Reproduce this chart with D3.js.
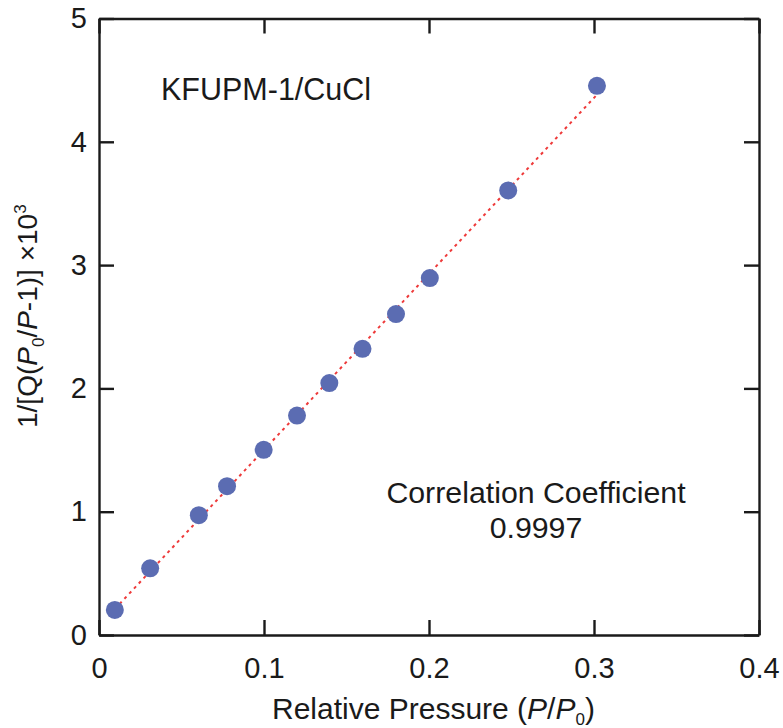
<!DOCTYPE html>
<html>
<head>
<meta charset="utf-8">
<script src="https://cdn.jsdelivr.net/npm/d3@7"></script>
<style>
  html, body { margin: 0; padding: 0; background: #fff; }
  svg { display: block; font-family: "Liberation Sans", Arial, sans-serif; }
  .axis text { font-size: 29px; fill: #1a1a1a; }
  .axis path, .axis line { stroke: #1a1a1a; stroke-width: 2.4px; }
</style>
</head>
<body>
<svg id="chart" width="783" height="728"></svg>
<script>
// BET plot data
const relPressure = [0.0096, 0.031, 0.0605, 0.0776, 0.0998, 0.120, 0.1396, 0.1597, 0.180, 0.2005, 0.248, 0.3018];
const betValue = [0.203, 0.541, 0.972, 1.207, 1.502, 1.780, 2.043, 2.321, 2.603, 2.895, 3.606, 4.454];
const xTicks = [0, 0.1, 0.2, 0.3, 0.4];
const yTicks = [0, 1, 2, 3, 4, 5];
const sampleLabel = "KFUPM-1/CuCl";
const corrLabel = ["Correlation Coefficient", "0.9997"];

const svg = d3.select("#chart");
const plotLeft = 99, plotRight = 759, plotTop = 18.5, plotBottom = 635;

const x = d3.scaleLinear().domain([0, 0.4]).range([plotLeft, plotRight]);
const y = d3.scaleLinear().domain([0, 5]).range([plotBottom, plotTop]);

const tick = 15;

// bottom axis with labels, ticks pointing in
svg.append("g")
  .attr("class", "axis")
  .attr("transform", "translate(0," + plotBottom + ")")
  .call(d3.axisBottom(x).tickValues(xTicks).tickSizeInner(-tick).tickSizeOuter(0)
    .tickFormat(function (d) { return d === 0 ? "0" : d3.format(".1f")(d); }))
  .call(function (g) { g.selectAll("text").attr("dy", "0.72em").attr("y", 22); });

// top axis, ticks only
svg.append("g")
  .attr("class", "axis")
  .attr("transform", "translate(0," + plotTop + ")")
  .call(d3.axisTop(x).tickValues(xTicks).tickSizeInner(-tick).tickSizeOuter(0).tickFormat(""));

// left axis with labels
svg.append("g")
  .attr("class", "axis")
  .attr("transform", "translate(" + plotLeft + ",0)")
  .call(d3.axisLeft(y).tickValues(yTicks).tickSizeInner(-tick).tickSizeOuter(0)
    .tickFormat(d3.format("d")))
  .call(function (g) { g.selectAll("text").attr("x", -12); });

// right axis, ticks only
svg.append("g")
  .attr("class", "axis")
  .attr("transform", "translate(" + plotRight + ",0)")
  .call(d3.axisRight(y).tickValues(yTicks).tickSizeInner(-tick).tickSizeOuter(0).tickFormat(""));

// least squares fit line
const n = relPressure.length;
const mx = d3.mean(relPressure), my = d3.mean(betValue);
let sxy = 0, sxx = 0;
for (let i = 0; i < n; i++) {
  sxy += (relPressure[i] - mx) * (betValue[i] - my);
  sxx += (relPressure[i] - mx) * (relPressure[i] - mx);
}
const slope = sxy / sxx;
const intercept = my - slope * mx;
const fitX = d3.extent(relPressure);

svg.append("line")
  .attr("x1", x(fitX[0])).attr("y1", y(intercept + slope * fitX[0]))
  .attr("x2", x(fitX[1])).attr("y2", y(intercept + slope * fitX[1]))
  .attr("stroke", "#ee3a3a")
  .attr("stroke-width", 2)
  .attr("stroke-dasharray", "3,4");

// data points
svg.append("g")
  .selectAll("circle")
  .data(relPressure)
  .join("circle")
  .attr("cx", function (d) { return x(d); })
  .attr("cy", function (d, i) { return y(betValue[i]); })
  .attr("r", 9)
  .attr("fill", "#5b6cb2");

// annotations
svg.append("text")
  .attr("x", 161).attr("y", 100)
  .attr("font-size", 30.5).attr("fill", "#1a1a1a")
  .text(sampleLabel);

svg.append("text")
  .attr("x", 536).attr("y", 503)
  .attr("text-anchor", "middle")
  .attr("font-size", 30.3).attr("fill", "#1a1a1a")
  .text(corrLabel[0]);

svg.append("text")
  .attr("x", 536).attr("y", 538)
  .attr("text-anchor", "middle")
  .attr("font-size", 30.3).attr("fill", "#1a1a1a")
  .text(corrLabel[1]);

// x axis title
const xt = svg.append("text")
  .attr("x", 272).attr("y", 719)
  .attr("font-size", 30).attr("fill", "#1a1a1a");
xt.append("tspan").text("Relative Pressure (");
xt.append("tspan").attr("font-style", "italic").text("P");
xt.append("tspan").text("/");
xt.append("tspan").attr("font-style", "italic").text("P");
xt.append("tspan").attr("font-size", 17).attr("dy", 6).text("0");
xt.append("tspan").attr("dy", -6).text(")");

// y axis title
const yt = svg.append("text")
  .attr("transform", "translate(37,428) rotate(-90)")
  .attr("font-size", 28).attr("fill", "#1a1a1a");
yt.append("tspan").text("1/[Q(");
yt.append("tspan").attr("font-style", "italic").text("P");
yt.append("tspan").attr("font-size", 17).attr("dy", 7).text("0");
yt.append("tspan").attr("dy", -7).text("/");
yt.append("tspan").attr("font-style", "italic").text("P");
yt.append("tspan").text("-1)] \u00d710");
yt.append("tspan").attr("font-size", 17).attr("dy", -11).text("3");
</script>
</body>
</html>
